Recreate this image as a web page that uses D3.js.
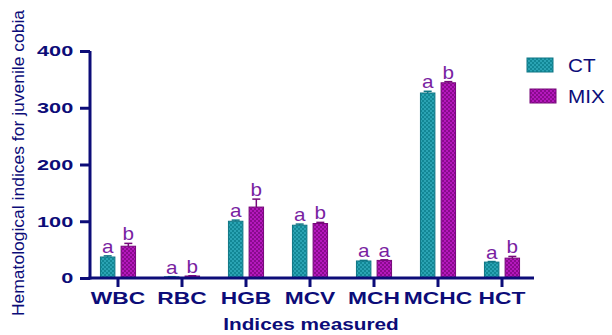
<!DOCTYPE html>
<html><head><meta charset="utf-8">
<script src="https://cdn.jsdelivr.net/npm/d3@7/dist/d3.min.js"></script>
<style>body{margin:0;background:#fff}svg{display:block}</style>
</head><body>
<svg id="c" width="612" height="335"></svg>
<script>
const categories = ["WBC","RBC","HGB","MCV","MCH","MCHC","HCT"];
const seriesNames = ["CT","MIX"];
const ctValues = [37, 2, 100, 93, 30, 326, 28];
const mixValues = [56, 3.5, 125, 96, 31, 344, 35];
const ctErrors = [2, 0.3, 2, 2, 1, 3, 1];
const mixErrors = [5, 0.5, 14, 2, 1, 2, 3];
const ctLetters = ["a","a","a","a","a","a","a"];
const mixLetters = ["b","b","b","b","a","b","b"];
const yTicks = [0,100,200,300,400];

const navy = "#0c0c78";
const font = "Liberation Sans, Arial, sans-serif";
const svg = d3.select("#c");
const defs = svg.append("defs");
function pat(id, base, light){
  const p = defs.append("pattern").attr("id",id).attr("patternUnits","userSpaceOnUse")
    .attr("width",4).attr("height",4);
  p.append("rect").attr("width",4).attr("height",4).attr("fill",base);
  p.append("rect").attr("width",2).attr("height",2).attr("fill",light);
  p.append("rect").attr("x",2).attr("y",2).attr("width",2).attr("height",2).attr("fill",light);
}
pat("pCT","#128795","#2aa3b3");
pat("pMIX","#8a0a8e","#b418bc");
const fills = {CT:"url(#pCT)", MIX:"url(#pMIX)"};
const strokes = {CT:"#0f7685", MIX:"#760879"};

const x = d3.scaleBand().domain(categories).range([86,534]);
const xs = d3.scaleBand().domain(seriesNames).range([0, x.step()]).paddingInner(0.3).paddingOuter(0.7);
const y = d3.scaleLinear().domain([0,400]).range([278,51]);

const rows = categories.map((c,i)=>({c, vals:[
  {s:"CT", v:ctValues[i], e:ctErrors[i], l:ctLetters[i]},
  {s:"MIX", v:mixValues[i], e:mixErrors[i], l:mixLetters[i]}]}));

const g = svg.append("g");
rows.forEach(r=>{
  r.vals.forEach(d=>{
    const x0 = x(r.c) + xs(d.s), w = xs.bandwidth();
    g.append("rect").attr("x",x0).attr("y",y(d.v)).attr("width",w).attr("height",y(0)-y(d.v))
      .attr("fill",fills[d.s]).attr("stroke",strokes[d.s]).attr("stroke-width",1);
    const cx = x0 + w/2;
    g.append("line").attr("x1",cx).attr("x2",cx).attr("y1",y(d.v)).attr("y2",y(d.v+d.e))
      .attr("stroke",strokes[d.s]).attr("stroke-width",1.5);
    g.append("line").attr("x1",cx-4).attr("x2",cx+4).attr("y1",y(d.v+d.e)).attr("y2",y(d.v+d.e))
      .attr("stroke",strokes[d.s]).attr("stroke-width",1.5);
    g.append("text").attr("transform","translate("+cx+","+(y(d.v+d.e)-3)+") scale(1.15,1)")
      .attr("text-anchor","middle")
      .attr("font-family",font).attr("font-size",18)
      .attr("fill","#7a1fa2").text(d.l);
  });
});

// Y axis
const ya = svg.append("g").attr("transform","translate(90,0)")
  .call(d3.axisLeft(y).tickValues(yTicks).tickSize(10).tickPadding(2));
ya.select(".domain").attr("stroke",navy).attr("stroke-width",3).attr("d","M0,"+y(400)+"V"+(y(0)+1.5));
ya.selectAll(".tick line").attr("stroke",navy).attr("stroke-width",3);
ya.selectAll(".tick text").attr("fill",navy).attr("font-family",font)
  .attr("font-weight","bold").attr("font-size",15.5).attr("transform","scale(1.4,1)");

// X axis
const xa = svg.append("g").attr("transform","translate(0,"+y(0)+")")
  .call(d3.axisBottom(x).tickSize(9).tickPadding(5));
xa.select(".domain").attr("stroke",navy).attr("stroke-width",3).attr("d","M88.5,0H534");
xa.selectAll(".tick line").attr("stroke",navy).attr("stroke-width",3);
xa.selectAll(".tick text").attr("fill",navy).attr("font-family",font)
  .attr("font-weight","bold").attr("font-size",16.5).attr("transform","scale(1.38,1)");

// axis titles
svg.append("text").attr("transform","translate(311,330) scale(1.3,1)").attr("text-anchor","middle")
  .attr("font-family",font).attr("font-weight","bold").attr("font-size",16)
  .attr("fill",navy).text("Indices measured");
svg.append("text").attr("transform","translate(24,163) rotate(-90) scale(1.06,1)").attr("text-anchor","middle")
  .attr("font-family",font).attr("font-size",16.5)
  .attr("fill",navy).text("Hematological indices for juvenile cobia");

// legend
const leg = svg.append("g");
seriesNames.forEach((s,i)=>{
  const ly = 58 + i*31;
  leg.append("rect").attr("x",527 + i*3).attr("y",ly).attr("width",26).attr("height",14)
    .attr("fill",fills[s]).attr("stroke",strokes[s]);
  leg.append("text").attr("transform","translate(568,"+(ly+14)+") scale(1.15,1)")
    .attr("font-family",font).attr("font-size",18)
    .attr("fill",navy).text(s);
});
</script>
</body></html>
